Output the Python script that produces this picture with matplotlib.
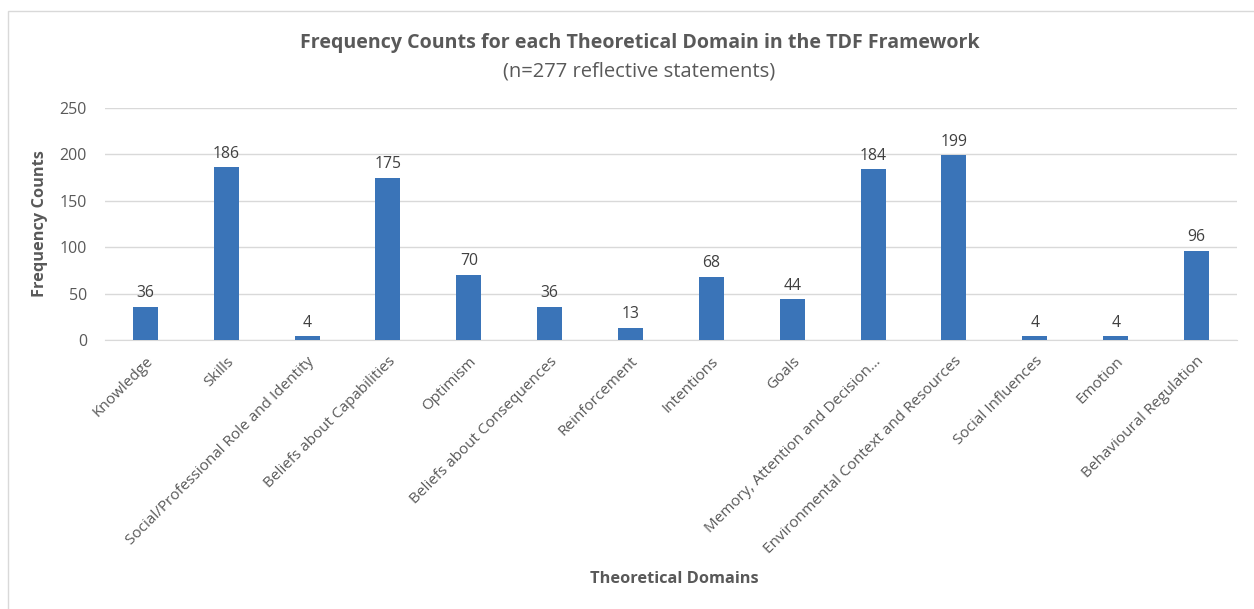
import matplotlib
matplotlib.use("Agg")
import matplotlib.pyplot as plt
from matplotlib.patches import Rectangle

plt.rcParams['font.family'] = ['Open Sans', 'DejaVu Sans']

# data
domains = ['Knowledge', 'Skills', 'Social/Professional Role and Identity',
           'Beliefs about Capabilities', 'Optimism', 'Beliefs about Consequences',
           'Reinforcement', 'Intentions', 'Goals', 'Memory, Attention and Decision…',
           'Environmental Context and Resources', 'Social Influences', 'Emotion',
           'Behavioural Regulation']
counts = [36, 186, 4, 175, 70, 36, 13, 68, 44, 184, 199, 4, 4, 96]

bar_color = '#3A74B8'
text_color = '#595959'

fig = plt.figure(figsize=(12.54, 6.09), dpi=100)
ax = fig.add_axes([0.0837, 0.4417, 0.9027, 0.381])

x = range(len(domains))
bars = ax.bar(x, counts, width=0.31, color=bar_color, zorder=3)
for b, v in zip(bars, counts):
    ax.text(b.get_x() + b.get_width() / 2, v + 6, str(v), ha='center', va='bottom',
            fontsize=11.3, color='#404040')

ax.set_xlim(-0.5, len(domains) - 0.5)
ax.set_ylim(0, 250)
ax.set_yticks([0, 50, 100, 150, 200, 250])
ax.yaxis.grid(True, color='#d9d9d9', linewidth=1, zorder=0)
for s in ['top', 'right', 'left']:
    ax.spines[s].set_visible(False)
ax.spines['bottom'].set_color('#d9d9d9')
ax.tick_params(axis='both', length=0, colors=text_color)
ax.tick_params(axis='y', pad=13, labelsize=11.5)
ax.set_xticks(list(x))
ax.set_xticklabels(domains, rotation=45, ha='right', rotation_mode='anchor')
ax.tick_params(axis='x', pad=10, labelsize=11)

ax.set_ylabel('Frequency Counts', fontsize=11.8, fontweight='bold', color=text_color, labelpad=8)

fig.text(0.51, 0.93, 'Frequency Counts for each Theoretical Domain in the TDF Framework',
         ha='center', va='center', fontsize=14.1, fontweight='bold', color=text_color)
fig.text(0.51, 0.882, '(n=277 reflective statements)', ha='center', va='center',
         fontsize=14.5, color=text_color)
fig.text(0.538, 0.049, 'Theoretical Domains', ha='center', va='center',
         fontsize=11.8, fontweight='bold', color=text_color)

fig.patches.append(Rectangle((0.006, -0.01), 1.0, 0.992, transform=fig.transFigure,
                             fill=False, edgecolor='#d9d9d9', linewidth=1))

fig.savefig('out.png', dpi=100, facecolor='white')
